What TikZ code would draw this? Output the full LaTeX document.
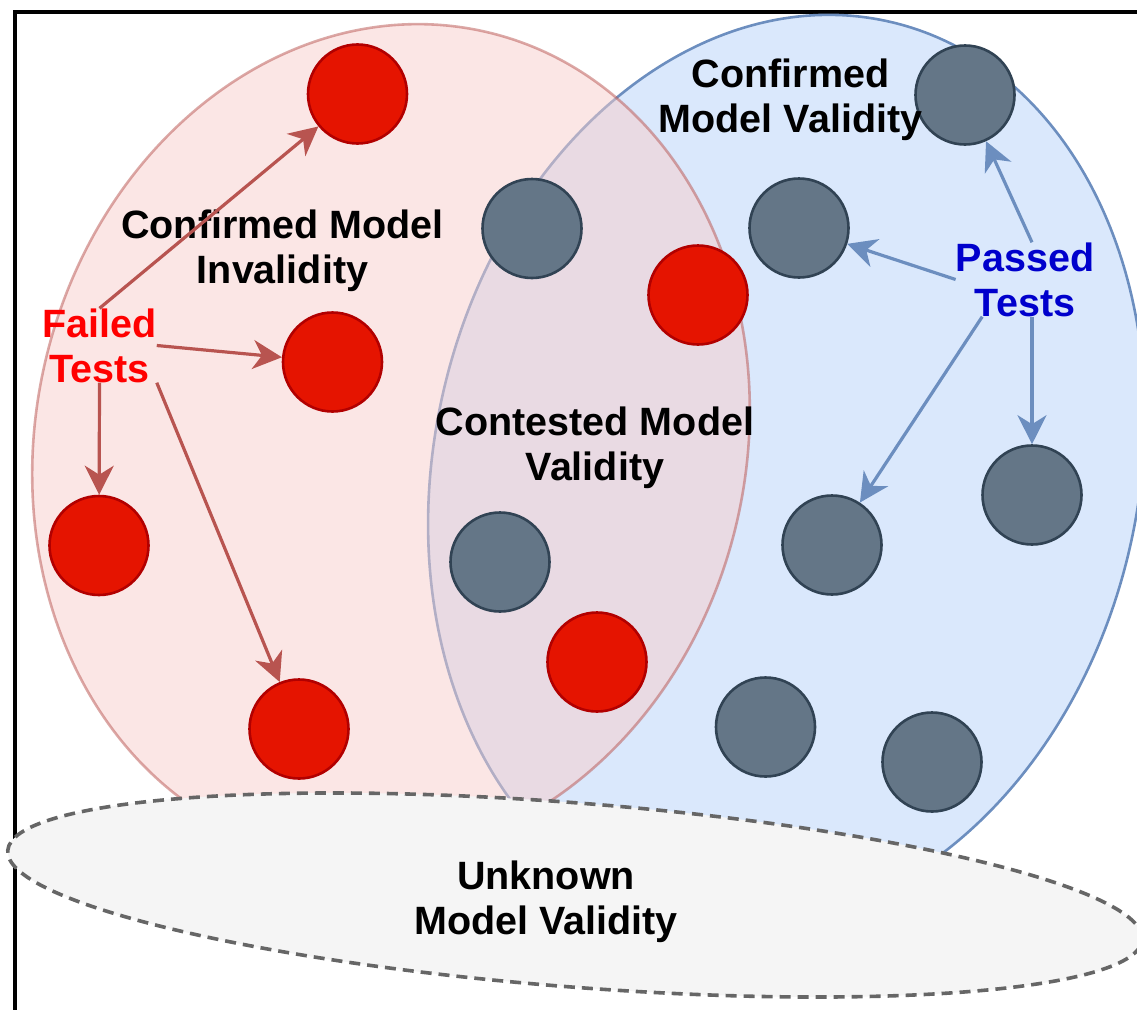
\documentclass[tikz,border=0pt]{standalone}
\usepackage{fontspec}
\setmainfont{Liberation Sans}
\usetikzlibrary{shapes.geometric,arrows.meta}
\definecolor{redfill}{HTML}{F8CECC}
\definecolor{redline}{HTML}{B85450}
\definecolor{bluefill}{HTML}{DAE8FC}
\definecolor{blueline}{HTML}{6C8EBF}
\definecolor{dotred}{HTML}{E51400}
\definecolor{dotredline}{HTML}{B20000}
\definecolor{dotgray}{HTML}{647687}
\definecolor{dotgrayline}{HTML}{314354}
\definecolor{unkfill}{HTML}{F5F5F5}
\definecolor{unkline}{HTML}{666666}
\definecolor{failtxt}{HTML}{FF0000}
\definecolor{passtxt}{HTML}{0000CC}
\begin{document}
\begin{tikzpicture}[x=1pt,y=-1pt,
  region/.style={ellipse, inner sep=0pt, line width=2.6pt},
  reddot/.style={circle, minimum size=99pt, inner sep=0pt, fill=dotred, draw=dotredline, line width=2.6pt},
  graydot/.style={circle, minimum size=99pt, inner sep=0pt, fill=dotgray, draw=dotgrayline, line width=2.6pt},
  lbl/.style={font=\fontsize{39.5}{45}\selectfont\bfseries, align=center, inner sep=0pt},
  failarrow/.style={draw=redline, line width=3.2pt, -{Stealth[length=29pt,width=29pt,inset=9pt,fill=redline]}},
  passarrow/.style={draw=blueline, line width=3.2pt, -{Stealth[length=29pt,width=29pt,inset=9pt,fill=blueline]}}
]
\useasboundingbox (0,0) rectangle (1137,1009);
\clip (0,0) rectangle (1137,1009);
% frame
\draw[line width=3.6pt] (1160,12) -- (15,12) -- (15,1030);
% regions
\node[region, fill=bluefill, draw=blueline, minimum width=704pt, minimum height=920pt, rotate=-13.1] (validset) at (786.5,470) {};
\node[region, fill=redfill, fill opacity=0.5, draw=redline, draw opacity=0.5, minimum width=710pt, minimum height=842pt, rotate=-13.2] (invalidset) at (391,442) {};
% red dots
\node[reddot] (R1) at (357.5,94) {};
\node[reddot] (R2) at (332.5,362) {};
\node[reddot] (R3) at (99,545.5) {};
\node[reddot] (R4) at (299,729) {};
\node[reddot] (R5) at (698,295) {};
\node[reddot] (R6) at (597,662) {};
% gray dots
\node[graydot] (G1) at (965,95) {};
\node[graydot] (G2) at (799,228) {};
\node[graydot] (G3) at (532,228.5) {};
\node[graydot] (G4) at (500,562) {};
\node[graydot] (G5) at (1032,495) {};
\node[graydot] (G6) at (832,545) {};
\node[graydot] (G7) at (765.5,727) {};
\node[graydot] (G8) at (932,762) {};
% labels
\node[lbl] (cmi) at (282.5,250.5) {Confirmed Model\\Invalidity};
\node[lbl] (cmv) at (790.5,100) {Confirmed\\Model Validity};
\node[lbl] (cv) at (595,448) {Contested Model\\Validity};
\node[lbl, text=failtxt] (failed) at (99.5,345.5) {Failed\\Tests};
\node[lbl, text=passtxt] (passed) at (1025,279.5) {Passed\\Tests};
% arrows
\draw[failarrow] (failed.north) -- (R1);
\draw[failarrow] (failed.east) -- (R2);
\draw[failarrow] (failed.south) -- (R3);
\draw[failarrow] (failed.south east) -- (R4);
\draw[passarrow] (passed.north -| G5) -- (G1);
\draw[passarrow] (passed.west) -- (G2);
\draw[passarrow] (passed.-139) -- (G6);
\draw[passarrow] (passed.south -| G5) -- (G5);
% unknown region
\node[ellipse, inner sep=0pt, fill=unkfill, draw=unkline, line width=3.6pt, dash pattern=on 11pt off 7pt, minimum width=1138pt, minimum height=184pt, rotate=-4.5] (unknownset) at (575,895) {};
\node[lbl] (unk) at (546,902) {Unknown\\Model Validity};
\end{tikzpicture}
\end{document}
